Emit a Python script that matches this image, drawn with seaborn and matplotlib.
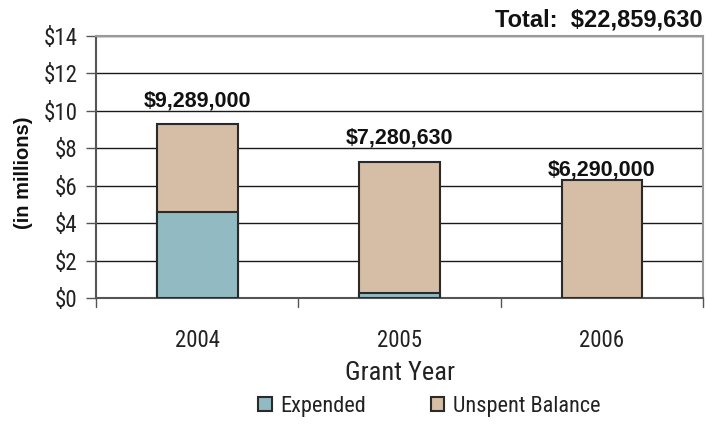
import pandas as pd
import seaborn as sns
import matplotlib.pyplot as plt
from matplotlib.patches import Patch

years = ['2004', '2005', '2006']
expended = [4.58, 0.28, 0.0]
totals = [9.289, 7.28063, 6.29]
total_labels = ['$9,289,000', '$7,280,630', '$6,290,000']
grand_total = 'Total:  $22,859,630'

exp_color = '#92BAC2'
unspent_color = '#D5BDA6'
edge = '#2a2a2a'
narrow = ['Roboto Condensed', 'DejaVu Sans']
bold_font = ['Liberation Sans', 'DejaVu Sans']

sns.set_style('white')
plt.rcParams['font.family'] = narrow

df = pd.DataFrame({'year': years, 'expended': expended, 'total': totals})

fig, ax = plt.subplots(figsize=(7.06, 4.43), dpi=100)
fig.subplots_adjust(left=0.136, right=0.996, top=0.919, bottom=0.327)

sns.barplot(data=df, x='year', y='total', color=unspent_color, width=0.4,
            saturation=1, edgecolor=edge, linewidth=1.5, ax=ax, zorder=3)
sns.barplot(data=df[df['expended'] > 0], x='year', y='expended', color=exp_color,
            width=0.4, saturation=1, edgecolor=edge, linewidth=1.5, ax=ax,
            zorder=4, order=years)

ax.set_ylim(0, 14)
ax.set_xlim(-0.5, 2.5)
ax.set_yticks(range(0, 15, 2))
ax.set_yticklabels([f'${v}' for v in range(0, 15, 2)], fontsize=16.5, color='#222222')
ax.yaxis.grid(True, color='#1a1a1a', linewidth=1)
ax.set_axisbelow(True)

ax.set_xticks([0, 1, 2])
ax.set_xticklabels(years, fontsize=16.5, color='#222222')
ax.tick_params(axis='x', length=0, pad=22)
ax.tick_params(axis='y', length=7, width=1, color='#555555', direction='out',
               left=True, pad=6.5)
# category separator ticks
for xb in [-0.5, 0.5, 1.5, 2.5]:
    ax.plot([xb, xb], [0, -0.45], color='#555555', linewidth=1, clip_on=False)

for s in ['top', 'right']:
    ax.spines[s].set_color('#999999')
    ax.spines[s].set_linewidth(1.5)
for s in ['left', 'bottom']:
    ax.spines[s].set_color('#555555')
    ax.spines[s].set_linewidth(1.5)

ax.set_xlabel('Grant Year', fontsize=19, color='#222222', labelpad=7)
ax.set_ylabel('(in millions)', fontsize=14.5, fontweight='bold', family=bold_font,
              color='#111111')
ax.yaxis.set_label_coords(-0.104, 0.477)

label_gap = [0.95, 1.0, 0.27]
for i, (t, lab) in enumerate(zip(totals, total_labels)):
    ax.text(i, t + label_gap[i], lab, ha='center', va='baseline', fontsize=15.5,
            fontweight='bold', family=bold_font, color='#111111')

fig.text(0.995, 1 - 26 / 443, grand_total, ha='right', va='baseline', fontsize=17,
         fontweight='bold', family=bold_font, color='#111111')

handles = [Patch(facecolor=exp_color, edgecolor=edge, linewidth=1.5, label='Expended'),
           Patch(facecolor=unspent_color, edgecolor=edge, linewidth=1.5,
                 label='Unspent Balance')]
fig.legend(handles=handles, loc='center', bbox_to_anchor=(0.608, 0.082), ncol=2,
           frameon=False, fontsize=16, handlelength=0.6, handleheight=0.6,
           handletextpad=0.4, columnspacing=2.9, labelcolor='#222222')

plt.savefig('out.png', dpi=100)
